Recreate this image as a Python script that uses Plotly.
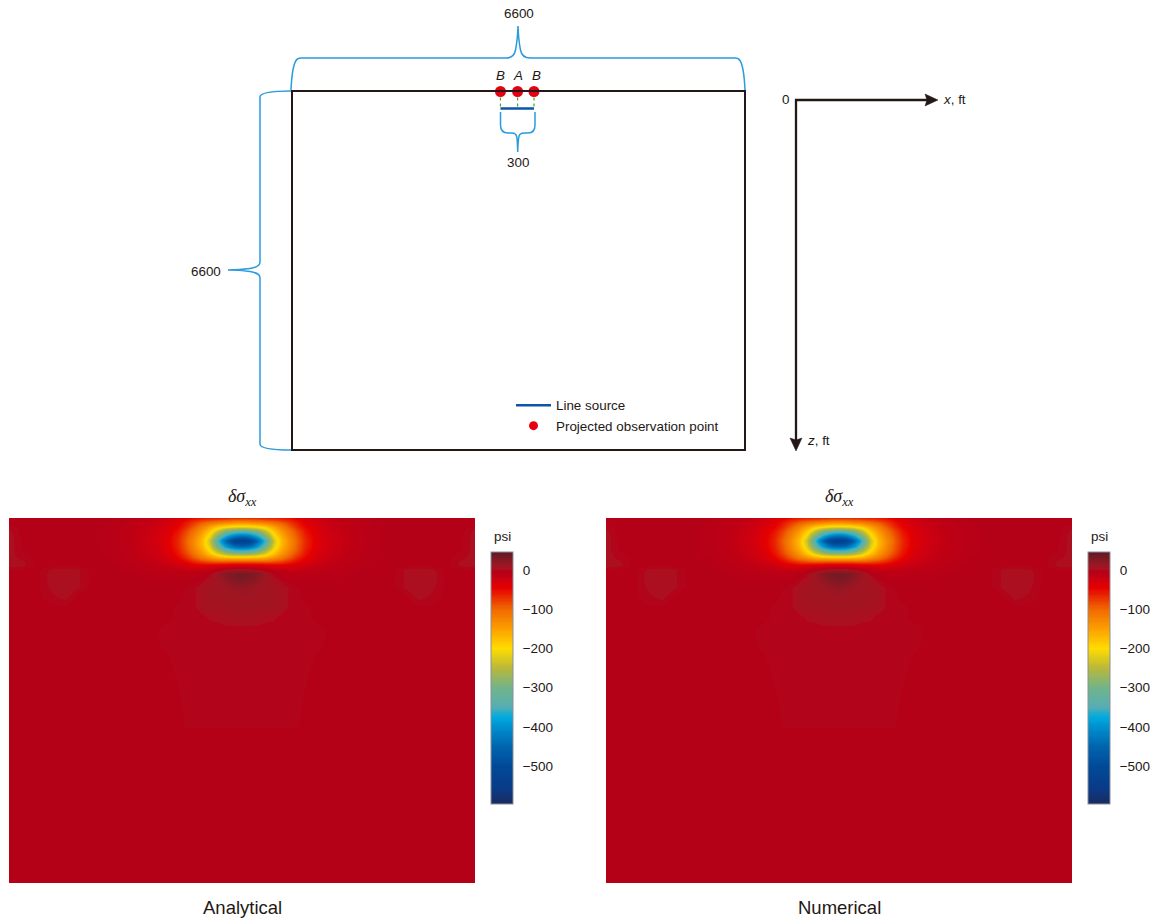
import plotly.graph_objects as go

W, H = 1156, 922
DOMAIN_FT = 6600

# half-grid of the stress field (symmetric about x = 3300 ft)
x_offset_ft = [0, 113, 227, 340, 453, 566, 680, 793, 906, 1062, 1274, 1558, 1841, 2124, 2336, 2492, 2690, 2903, 3115, 3300]
z_ft = [0, 90, 163, 235, 307, 416, 524, 579, 651, 723, 796, 868, 940, 1012, 1121, 1266, 1446, 1627, 1808, 1989, 2260, 2712, 3435, 4158, 5424, 6600]
sigma_half = [
    [-65, -64, -62, -60, -58, -56, -50, -42, -32, -23, -15, -9, -6, -4, -4, -4, -4, -4, -4, -4],
    [-140, -138, -130, -122, -110, -95, -76, -57, -41, -29, -18, -11, -6, -4, -4, -4, -4, -4, -4, -4],
    [-215, -210, -200, -182, -150, -120, -92, -66, -47, -32, -20, -12, -7, -5, -4, -4, -4, -4, -4, -2],
    [-320, -310, -285, -235, -180, -140, -108, -80, -55, -36, -22, -13, -7, -5, -4, -4, -4, -4, -4, 1],
    [-410, -395, -350, -280, -205, -155, -118, -87, -60, -38, -23, -13, -7, -5, -4, -4, -4, -4, -4, 2],
    [-535, -520, -450, -345, -235, -170, -130, -95, -65, -40, -24, -14, -7, -5, -4, -4, -4, -4, -3, 2],
    [-450, -435, -385, -305, -220, -165, -126, -91, -63, -39, -23, -13, -7, -5, -4, -4, -4, -4, -3, 2],
    [-375, -365, -330, -270, -205, -155, -120, -88, -60, -37, -22, -13, -7, -5, -4, -4, -4, -4, -3, 2],
    [-285, -280, -258, -222, -178, -140, -108, -80, -55, -34, -21, -12, -7, -5, -4, -4, -4, -4, -2, 2],
    [-180, -178, -172, -160, -138, -115, -90, -66, -47, -30, -19, -11, -6, -4, -4, -4, -4, -4, -1, 2],
    [-90, -90, -92, -92, -86, -78, -64, -49, -36, -24, -16, -10, -6, -4, -4, -4, -4, -4, 1, 2],
    [-25, -25, -28, -32, -36, -38, -35, -29, -23, -18, -13, -8, -5, -4, -4, -4, -4, -4, 1, 2],
    [8, 6, 0, -6, -12, -16, -19, -18, -15, -12, -10, -7, -5, -4, 1, 2, 1, -4, -4, -4],
    [32, 30, 24, 10, -2, -7, -10, -11, -10, -9, -8, -6, -4, -4, 1, 2, 2, -4, -4, -4],
    [30, 26, 18, 9, 3, -2, -5, -6, -6, -6, -6, -5, -4, -4, 1, 2, 2, -4, -4, -4],
    [16, 14, 11, 9, 7, 3, -1, -3, -5, -5, -5, -4, -4, -4, 1, 2, 1, -4, -4, -4],
    [9, 9, 8, 8, 7, 4, -1, -2, -4, -4, -4, -4, -4, -4, -4, 1, -1, -4, -4, -4],
    [7, 7, 6, 6, 5, 3, -1, -2, -2, -4, -4, -4, -4, -4, -4, -4, -4, -4, -4, -4],
    [4, 4, 3, 2, 1, -2, -2, -2, -2, -4, -4, -4, -4, -4, -4, -4, -4, -4, -4, -4],
    [-1, -1, -1, -2, -2, -2, -2, -2, -2, -2, -4, -4, -4, -4, -4, -4, -4, -4, -4, -4],
    [-2, -2, -2, -2, -2, -2, -2, -2, -2, -2, -4, -4, -4, -4, -4, -4, -4, -4, -4, -4],
    [-2, -2, -2, -2, -2, -2, -2, -2, -2, -4, -4, -4, -4, -4, -4, -4, -4, -4, -4, -4],
    [-2, -2, -2, -2, -2, -2, -2, -2, -4, -4, -4, -4, -4, -4, -4, -4, -4, -4, -4, -4],
    [-4, -4, -4, -4, -4, -4, -4, -4, -4, -4, -4, -4, -4, -4, -4, -4, -4, -4, -4, -4],
    [-4, -4, -4, -4, -4, -4, -4, -4, -4, -4, -4, -4, -4, -4, -4, -4, -4, -4, -4, -4],
    [-4, -4, -4, -4, -4, -4, -4, -4, -4, -4, -4, -4, -4, -4, -4, -4, -4, -4, -4, -4],
]

# colour scale, psi -> colour
scale_psi = [46, 30, 12, 3, 0, -5, -25, -45, -100, -150, -200, -250, -300, -350, -375, -400, -450, -500, -560, -597]
scale_col = ["#641a26", "#7c1a24", "#9e1622", "#ab1120", "#b1041a", "#b60017", "#cf0010", "#e60000", "#f06a00", "#fca000",
             "#ffdc00", "#b8b83a", "#72b48a", "#55aeb4", "#00aadf", "#0090cf", "#0065ae", "#004a98", "#0a3a86", "#1a2a60"]
ZMIN, ZMAX = -597, 46
CONTOUR_STEP = 3
COLORBAR_TICKS = [0, -100, -200, -300, -400, -500]

obs_x_ft = [3040, 3290, 3530]
obs_z_ft = [0, 0, 0]
source_x_ft = [3040, 3530]
source_z_ft = [313, 313]

x_ft = [3300 - v for v in x_offset_ft[:0:-1]] + [3300 + v for v in x_offset_ft]
sigma = [row[:0:-1] + row for row in sigma_half]
colorscale = sorted([[(p - ZMIN) / (ZMAX - ZMIN), c] for p, c in zip(scale_psi, scale_col)])

INK = "#231815"
BLUE = "#2a9bdc"
RED = "#e60012"
SANS = "Liberation Sans, Arial, sans-serif"
SERIF = "Liberation Serif, Times New Roman, serif"
CB_TOP, CB_LEN, CB_WIDTH = 552, 252, 22


def px(x):
    return x / W


def py(y):
    return 1 - y / H


def dom_x(a, b):
    return [px(a), px(b)]


def dom_y(top, bottom):
    return [py(bottom), py(top)]


fig = go.Figure()

panels = [("x", "y", 491), ("x2", "y2", 1088)]
for xa, ya, cb_left in panels:
    fig.add_trace(go.Contour(
        x=x_ft, y=z_ft, z=sigma, xaxis=xa, yaxis=ya,
        zmin=ZMIN, zmax=ZMAX, colorscale=colorscale, hoverinfo="skip", autocontour=False,
        contours=dict(coloring="fill", start=ZMIN, end=ZMAX, size=CONTOUR_STEP, showlines=False),
        line=dict(width=0, smoothing=0.9),
        colorbar=dict(
            x=px(cb_left), xanchor="left", xpad=0, y=py(CB_TOP), yanchor="top", ypad=0,
            thickness=CB_WIDTH, thicknessmode="pixels", len=CB_LEN, lenmode="pixels",
            tickmode="array", tickvals=COLORBAR_TICKS,
            ticks="outside", ticklen=7, tickcolor="rgba(0,0,0,0)", tickwidth=1,
            tickfont=dict(family=SANS, size=13.5, color=INK),
            outlinecolor="#8a8f98", outlinewidth=1, borderwidth=0,
        ),
    ))
    # the short inward tick marks of the colour bar
    for v in COLORBAR_TICKS:
        y = CB_TOP + (ZMAX - v) / (ZMAX - ZMIN) * CB_LEN
        fig.add_shape(type="line", xref="paper", yref="paper",
                      x0=px(cb_left + CB_WIDTH - 2), x1=px(cb_left + CB_WIDTH), y0=py(y), y1=py(y),
                      line=dict(color=INK, width=1))

# schematic, on its own axes in feet
fig.add_trace(go.Scatter(
    x=[source_x_ft[0], source_x_ft[0], None, obs_x_ft[1], obs_x_ft[1], None, source_x_ft[1], source_x_ft[1]],
    y=[obs_z_ft[0], source_z_ft[0], None, obs_z_ft[1], source_z_ft[0], None, obs_z_ft[2], source_z_ft[1]],
    mode="lines", line=dict(color="#4aa02c", width=1.2, dash="dot"), xaxis="x3", yaxis="y3",
    showlegend=False, hoverinfo="skip", cliponaxis=False))
fig.add_trace(go.Scatter(
    x=source_x_ft, y=source_z_ft, mode="lines", name="Line source",
    line=dict(color="#0b56a8", width=2.5), xaxis="x3", yaxis="y3", hoverinfo="skip", cliponaxis=False))
fig.add_trace(go.Scatter(
    x=obs_x_ft, y=obs_z_ft, mode="markers", showlegend=False,
    marker=dict(color=RED, size=11), xaxis="x3", yaxis="y3", hoverinfo="skip", cliponaxis=False))
fig.add_trace(go.Scatter(
    x=[None], y=[None], mode="markers", name="Projected observation point",
    marker=dict(color=RED, size=9), xaxis="x3", yaxis="y3", hoverinfo="skip"))

hidden = dict(showgrid=False, zeroline=False, showticklabels=False, ticks="", showline=False)
framed = dict(showgrid=False, zeroline=False, showticklabels=False, ticks="", showline=True, mirror=True,
              linecolor=INK, linewidth=2)
fig.update_layout(
    width=W, height=H, margin=dict(l=0, r=0, t=0, b=0), paper_bgcolor="white", plot_bgcolor="white",
    font=dict(family=SANS, color=INK),
    xaxis=dict(domain=dom_x(9, 475), range=[0, DOMAIN_FT], anchor="y", **hidden),
    yaxis=dict(domain=dom_y(518, 883), range=[DOMAIN_FT, 0], anchor="x", **hidden),
    xaxis2=dict(domain=dom_x(606, 1072), range=[0, DOMAIN_FT], anchor="y2", **hidden),
    yaxis2=dict(domain=dom_y(518, 883), range=[DOMAIN_FT, 0], anchor="x2", **hidden),
    xaxis3=dict(domain=dom_x(292.5, 744), range=[0, DOMAIN_FT], anchor="y3", **framed),
    yaxis3=dict(domain=dom_y(91.5, 449), range=[DOMAIN_FT, 0], anchor="x3", **framed),
    legend=dict(x=px(511), y=py(390), xanchor="left", yanchor="top", bgcolor="rgba(0,0,0,0)",
                font=dict(family=SANS, size=13.4, color=INK), itemwidth=35, tracegroupgap=0),
)


def path(points):
    """points: list of 'M'/'L'/'Q' commands with pixel pairs, written in paper units."""
    out = []
    for cmd, *xy in points:
        pairs = [f"{px(xy[i]):.5f},{py(xy[i + 1]):.5f}" for i in range(0, len(xy), 2)]
        out.append(cmd + " " + " ".join(pairs))
    return " ".join(out)


brackets = [
    [("M", 291, 90), ("Q", 292, 67, 296, 60.5), ("Q", 297.5, 58, 301, 58), ("L", 506, 58), ("Q", 514, 58, 515.5, 50),
     ("Q", 517.5, 40, 518, 26), ("Q", 518.5, 40, 520.5, 50), ("Q", 522, 58, 530, 58), ("L", 735, 58),
     ("Q", 738.5, 58, 740, 60.5), ("Q", 744, 67, 745, 90)],
    [("M", 291, 91), ("Q", 260, 91, 260, 97), ("L", 260, 262), ("Q", 260, 267, 250, 268.5), ("Q", 240, 270, 228, 270),
     ("Q", 240, 270, 250, 271.5), ("Q", 260, 273, 260, 278), ("L", 260, 444), ("Q", 260, 450, 291, 450)],
    [("M", 500.5, 112), ("L", 500.5, 125), ("Q", 500.5, 133, 508, 133), ("L", 512, 133), ("Q", 516, 133, 516.8, 137),
     ("Q", 517.5, 142, 517.7, 152), ("Q", 518, 142, 518.8, 137), ("Q", 519.5, 133, 524, 133), ("L", 528, 133),
     ("Q", 535, 133, 535, 125), ("L", 535, 112)],
]
for b in brackets:
    fig.add_shape(type="path", path=path(b), xref="paper", yref="paper", line=dict(color=BLUE, width=1.5))

# coordinate arrows: corner, then shaft ends and heads
fig.add_shape(type="path", xref="paper", yref="paper", line=dict(color=INK, width=2.3),
              path=path([("M", 928, 100), ("L", 796, 100), ("L", 796, 440)]))
for head in [
    [("M", 938, 100), ("L", 925, 94), ("L", 927, 100), ("L", 925, 106), ("Z",)],
    [("M", 796, 451), ("L", 790, 438), ("L", 796, 440), ("L", 802, 438), ("Z",)],
]:
    fig.add_shape(type="path", path=path(head), xref="paper", yref="paper", fillcolor=INK, line=dict(color=INK, width=0.5))

labels = [
    ("6600", 519, 14, 13.4, SANS), ("300", 518, 163, 13.4, SANS), ("6600", 206, 271, 13.4, SANS),
    ("<i>B</i>", 500, 76, 13.4, SANS), ("<i>A</i>", 518, 76, 13.4, SANS), ("<i>B</i>", 536, 76, 13.4, SANS),
    ("0", 785, 100, 13.4, SANS), ("<i>x</i>, ft", 955, 100, 13.4, SANS), ("<i>z</i>, ft", 818, 441, 13.4, SANS),
    ("psi", 502, 536, 13.4, SANS), ("psi", 1099, 536, 13.4, SANS),
    ("<i>δσ<sub>xx</sub></i>", 242, 498, 18, SERIF), ("<i>δσ<sub>xx</sub></i>", 839, 498, 18, SERIF),
    ("Analytical", 242, 907, 18.5, SANS), ("Numerical", 839, 907, 18.5, SANS),
]
for text, x, y, size, family in labels:
    fig.add_annotation(x=px(x), y=py(y), xref="paper", yref="paper", text=text, showarrow=False,
                       xanchor="center", yanchor="middle", font=dict(size=size, family=family, color=INK))

fig.write_html("out.html", config={"displayModeBar": False},
               post_script="document.body.style.margin='0';document.body.style.overflow='hidden';")
